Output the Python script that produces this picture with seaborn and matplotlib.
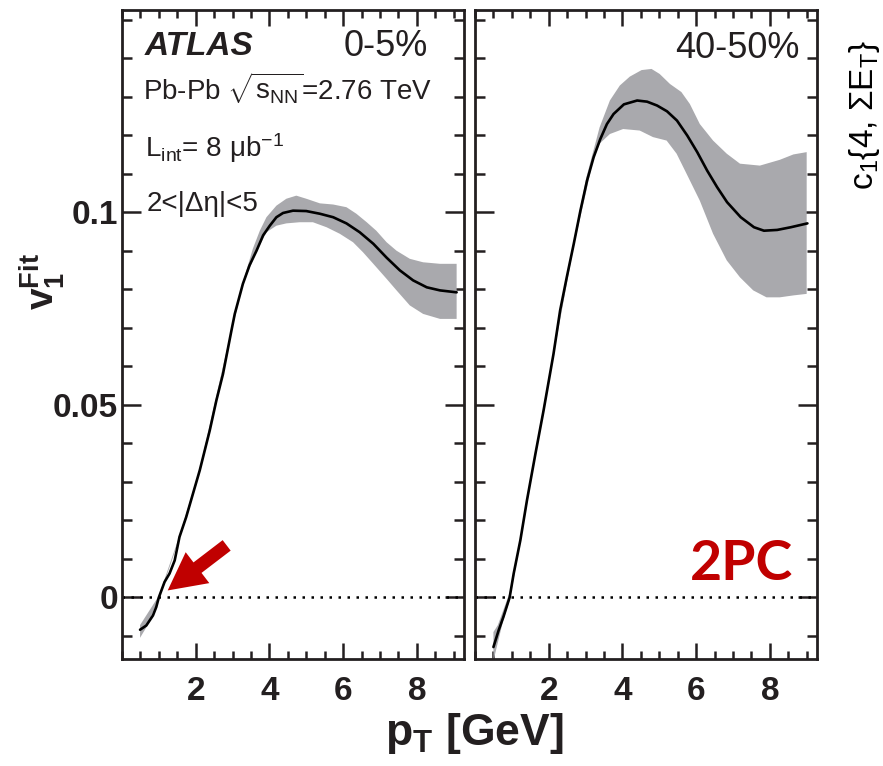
import numpy as np
import pandas as pd
import matplotlib
matplotlib.use("Agg")
import matplotlib.pyplot as plt
import seaborn as sns
from matplotlib.patches import FancyArrowPatch
from matplotlib.ticker import MultipleLocator, FixedLocator

# ---------------- data ----------------
# 0-5 % centrality: central curve
pt_c05 = [0.49, 0.66, 0.84, 0.93, 1.0, 1.155, 1.29, 1.43, 1.56, 1.74, 2.11,
          2.38, 2.56, 2.74, 2.97, 3.06, 3.28, 3.46, 3.65, 3.83, 4.01, 4.19,
          4.37, 4.64, 5.0, 5.37, 5.73, 6.09, 6.45, 6.82, 7.18, 7.54, 7.9,
          8.27, 8.63, 9.08]
v1_c05 = [-0.0084, -0.0073, -0.0047, -0.0025, 0.0, 0.004, 0.0062, 0.0096,
          0.0157, 0.0208, 0.033, 0.0433, 0.0511, 0.058, 0.0693, 0.0736,
          0.0814, 0.0862, 0.090, 0.094, 0.0965, 0.0987, 0.0998, 0.1004,
          0.1003, 0.0996, 0.0987, 0.0971, 0.0948, 0.0918, 0.0882, 0.0849,
          0.0823, 0.0805, 0.0797, 0.0792]
# 0-5 % uncertainty band edges
pt_c05_hi = [0.49, 1.0, 1.56, 2.11, 2.97, 3.28, 3.55, 3.74, 3.92, 4.19, 4.46,
             4.73, 5.0, 5.37, 5.73, 6.09, 6.36, 6.64, 6.9, 7.18, 7.45, 7.81,
             8.17, 8.63, 9.08]
v1_c05_hi = [-0.0072, 0.0004, 0.016, 0.0334, 0.0696, 0.0818, 0.0905, 0.0952,
             0.0987, 0.1017, 0.1035, 0.1043, 0.1035, 0.1023, 0.102, 0.1013,
             0.0996, 0.0974, 0.0952, 0.0922, 0.090, 0.0879, 0.087, 0.0866,
             0.0866]
pt_c05_lo = [0.49, 0.66, 1.0, 1.56, 2.11, 2.97, 3.28, 3.65, 3.92, 4.19, 4.46,
             4.82, 5.18, 5.55, 5.91, 6.27, 6.54, 6.82, 7.18, 7.45, 7.81, 8.17,
             8.63, 9.08]
v1_c05_lo = [-0.0105, -0.0078, -0.0003, 0.0154, 0.0326, 0.069, 0.0811,
             0.0898, 0.0948, 0.0965, 0.0971, 0.0974, 0.0974, 0.0961, 0.0944,
             0.0922, 0.0896, 0.0866, 0.0827, 0.0797, 0.0758, 0.0736, 0.0723,
             0.0723]

# 40-50 % centrality: central curve
pt_c40 = [0.5, 0.64, 0.77, 0.94, 1.05, 1.23, 1.41, 1.64, 1.86, 2.13, 2.31,
          2.49, 2.68, 2.86, 3.04, 3.22, 3.4, 3.58, 3.76, 4.04, 4.4, 4.67,
          4.94, 5.21, 5.48, 5.76, 6.03, 6.3, 6.57, 6.84, 7.21, 7.57, 7.84,
          8.2, 8.57, 9.02]
v1_c40 = [-0.0129, -0.0086, -0.0051, 0.0, 0.0062, 0.0148, 0.0252, 0.0373,
          0.0485, 0.0632, 0.0745, 0.0831, 0.0918, 0.1004, 0.1082, 0.1143,
          0.119, 0.1229, 0.1255, 0.128, 0.129, 0.1287, 0.1277, 0.1262, 0.1238,
          0.1199, 0.1156, 0.1108, 0.1065, 0.1026, 0.0987, 0.0961, 0.0952,
          0.0954, 0.0961, 0.0971]
# 40-50 % uncertainty band edges
pt_c40_hi = [0.5, 0.62, 0.94, 1.23, 1.64, 2.13, 2.68, 3.02, 3.2, 3.38, 3.66,
             3.93, 4.2, 4.52, 4.79, 5.01, 5.29, 5.6, 5.83, 6.1, 6.46, 6.83,
             7.19, 7.73, 8.27, 8.64, 9.0]
v1_c40_hi = [-0.009, -0.0072, 0.0012, 0.0155, 0.038, 0.0638, 0.0925, 0.109,
             0.1155, 0.122, 0.129, 0.1329, 0.1352, 0.1369, 0.1372, 0.1359,
             0.1333, 0.1312, 0.1281, 0.1229, 0.1186, 0.1152, 0.1126, 0.1121,
             0.1136, 0.115, 0.1156]
pt_c40_lo = [0.5, 0.77, 0.94, 1.23, 1.64, 2.13, 2.68, 3.02, 3.2, 3.38, 3.66,
             4.02, 4.47, 4.83, 5.2, 5.47, 5.74, 6.1, 6.46, 6.83, 7.19, 7.55,
             7.91, 8.27, 8.64, 9.0]
v1_c40_lo = [-0.0165, -0.0058, -0.0008, 0.0142, 0.0368, 0.0627, 0.0912,
             0.1055, 0.1134, 0.1178, 0.1203, 0.1216, 0.1212, 0.1195, 0.1186,
             0.1152, 0.110, 0.103, 0.0944, 0.0875, 0.0831, 0.0797, 0.0779,
             0.0779, 0.0784, 0.0788]

centralities = ["0-5%", "40-50%"]
xticks = [2, 4, 6, 8]
yticks = [0, 0.05, 0.1]
ytick_labels = ["0", "0.05", "0.1"]

# ---------------- style ----------------
sns.set_theme(style="ticks")
plt.rcParams["font.family"] = ["Liberation Sans", "DejaVu Sans"]
plt.rcParams["mathtext.fontset"] = "custom"
plt.rcParams["mathtext.rm"] = "Liberation Sans"
plt.rcParams["mathtext.it"] = "Liberation Sans:italic"
plt.rcParams["mathtext.bf"] = "Liberation Sans:bold"
plt.rcParams["mathtext.sf"] = "Liberation Sans"

W, H = 883, 766
fig = plt.figure(figsize=(W / 100, H / 100), dpi=100)


def fx(x):
    return x / W


def fy(y):
    return 1 - y / H


ax_l = fig.add_axes([fx(122), fy(659), fx(464 - 122), (659 - 10) / H])
ax_r = fig.add_axes([fx(475), fy(659), fx(817 - 475), (659 - 10) / H])

band_color = "#a9a9ad"
tc = "#231f20"
panels = [
    (ax_l, pt_c05, v1_c05, pt_c05_lo, v1_c05_lo, pt_c05_hi, v1_c05_hi),
    (ax_r, pt_c40, v1_c40, pt_c40_lo, v1_c40_lo, pt_c40_hi, v1_c40_hi),
]
for ax, x, v, xl, yl, xh, yh in panels:
    bx = list(xh) + list(xl)[::-1]
    by = list(yh) + list(yl)[::-1]
    ax.fill(bx, by, color=band_color, lw=0, zorder=1)
    df = pd.DataFrame({"pt": x, "v1": v})
    sns.lineplot(data=df, x="pt", y="v1", ax=ax, color="black", lw=1.9,
                 zorder=3, sort=False)
    ax.axhline(0, color="black", lw=1.8, ls=(0, (1, 2.6)), zorder=2)
    ax.set_xlim(0, 9.28)
    ax.set_ylim(-0.016, 0.1525)
    ax.set_xlabel("")
    ax.set_ylabel("")
    ax.xaxis.set_major_locator(FixedLocator(xticks))
    ax.xaxis.set_minor_locator(MultipleLocator(0.5))
    ax.yaxis.set_major_locator(FixedLocator(yticks))
    ax.yaxis.set_minor_locator(MultipleLocator(0.01))
    ax.tick_params(which="both", direction="in", top=True, right=True,
                   width=1.8, color=tc)
    ax.tick_params(axis="x", which="major", length=11.5, pad=12)
    ax.tick_params(axis="x", which="minor", length=5.5)
    ax.tick_params(axis="y", which="major", length=14, pad=3)
    ax.tick_params(axis="y", which="minor", length=7.5)
    for s in ax.spines.values():
        s.set_linewidth(2.0)
        s.set_color(tc)
    ax.set_xticklabels([str(t) for t in xticks], fontsize=24,
                       fontweight="bold", color=tc)

ax_l.set_yticklabels(ytick_labels, fontsize=24, fontweight="bold", color=tc)
ax_r.set_yticklabels([])

# red arrow pointing at the zero crossing
arrow = FancyArrowPatch(
    (2.84, 0.0135), (1.24, 0.0018),
    arrowstyle="simple,head_length=2.7,head_width=2.8,tail_width=0.95",
    mutation_scale=10, color="#c00000", lw=0, shrinkA=0, shrinkB=0,
    zorder=5,
)
ax_l.add_patch(arrow)

# ---------------- texts ----------------
fig.text(fx(145), fy(55), "ATLAS", fontsize=24, fontweight="bold",
         fontstyle="italic", color=tc, va="baseline")
fig.text(fx(428), fy(56), centralities[0], fontsize=26, color=tc,
         va="baseline", ha="right")
fig.text(fx(800), fy(58), centralities[1], fontsize=26, color=tc,
         va="baseline", ha="right")
fig.text(fx(143), fy(100),
         r"Pb-Pb $\sqrt{\mathrm{s}_{\mathrm{NN}}}$=2.76 TeV",
         fontsize=20, color=tc, va="baseline")
fig.text(fx(145), fy(157), r"L$_{\rm int}$= 8 μb$^{-1}$",
         fontsize=20, color=tc, va="baseline")
fig.text(fx(147), fy(211), "2<|Δη|<5", fontsize=20, color=tc,
         va="baseline")

fig.text(fx(42), fy(282), r"$\mathbf{v_{1}^{Fit}}$", fontsize=28,
         rotation=90, ha="center", va="center", color=tc)
fig.text(fx(474), fy(745), r"p$_{\mathbf{T}}$ [GeV]", fontsize=32,
         fontweight="bold", ha="center", va="baseline", color=tc)

fig.text(fx(690), fy(580), "2PC", fontsize=40, fontweight="bold",
         family=["Lato", "DejaVu Sans"], color="#c00000", va="baseline")

fig.text(fx(865), fy(190), r"c$_1${4, ΣE$_{\rm T}$}", fontsize=24,
         rotation=90, ha="center", va="bottom", color="black")

fig.savefig("out.png", dpi=100)
